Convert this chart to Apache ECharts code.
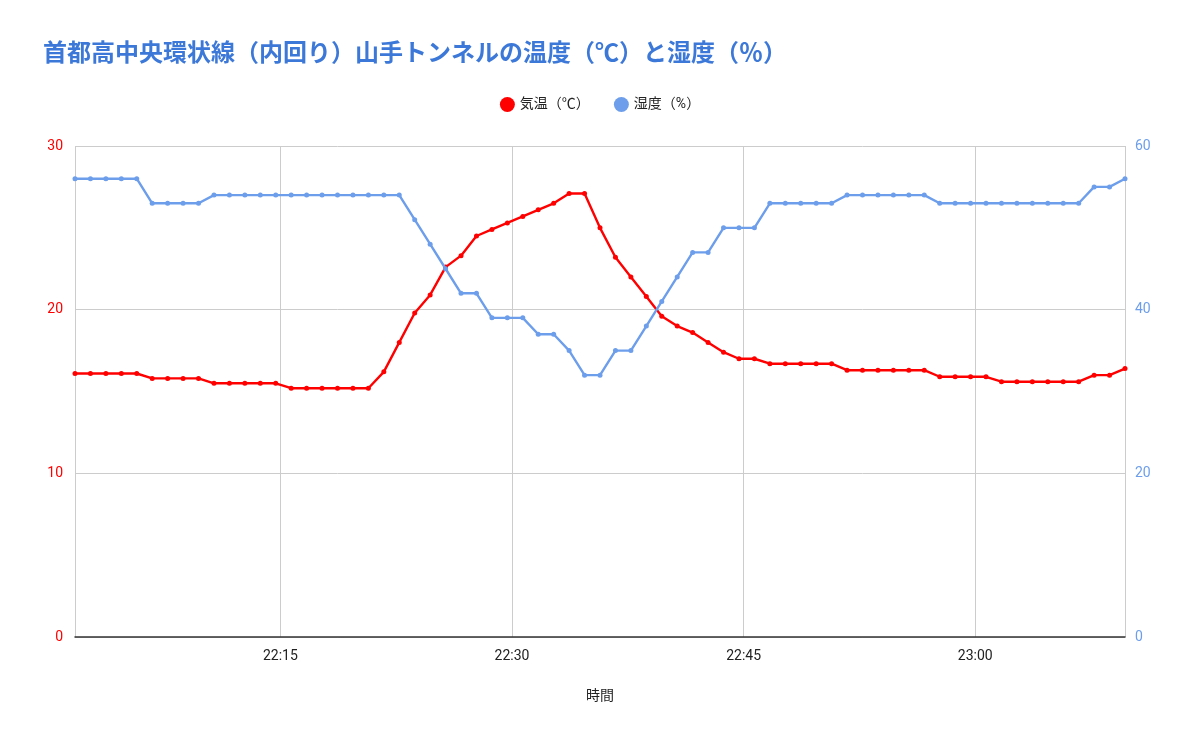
<!DOCTYPE html>
<html>
<head>
<meta charset="utf-8">
<script src="https://cdn.jsdelivr.net/npm/echarts@6/dist/echarts.min.js"></script>
<style>html,body{margin:0;padding:0;background:#fff;}#c{width:1200px;height:743px;}</style>
</head>
<body>
<div id="c"></div>
<script>
const times = [
 "22:01:42","22:02:42","22:03:42","22:04:42","22:05:42","22:06:42","22:07:42","22:08:42","22:09:42","22:10:42",
 "22:11:42","22:12:42","22:13:42","22:14:42","22:15:42","22:16:42","22:17:42","22:18:42","22:19:42","22:20:42",
 "22:21:42","22:22:42","22:23:42","22:24:42","22:25:42","22:26:42","22:27:42","22:28:42","22:29:42","22:30:42",
 "22:31:42","22:32:42","22:33:42","22:34:42","22:35:42","22:36:42","22:37:42","22:38:42","22:39:42","22:40:42",
 "22:41:42","22:42:42","22:43:42","22:44:42","22:45:42","22:46:42","22:47:42","22:48:42","22:49:42","22:50:42",
 "22:51:42","22:52:42","22:53:42","22:54:42","22:55:42","22:56:42","22:57:42","22:58:42","22:59:42","23:00:42",
 "23:01:42","23:02:42","23:03:42","23:04:42","23:05:42","23:06:42","23:07:42","23:08:42","23:09:42"
];
const temperature = [
 16.1,16.1,16.1,16.1,16.1,15.8,15.8,15.8,15.8,15.5,
 15.5,15.5,15.5,15.5,15.2,15.2,15.2,15.2,15.2,15.2,
 16.2,18.0,19.8,20.9,22.6,23.3,24.5,24.9,25.3,25.7,
 26.1,26.5,27.1,27.1,25.0,23.2,22.0,20.8,19.6,19.0,
 18.6,18.0,17.4,17.0,17.0,16.7,16.7,16.7,16.7,16.7,
 16.3,16.3,16.3,16.3,16.3,16.3,15.9,15.9,15.9,15.9,
 15.6,15.6,15.6,15.6,15.6,15.6,16.0,16.0,16.4
];
const humidity = [
 56,56,56,56,56,53,53,53,53,54,
 54,54,54,54,54,54,54,54,54,54,
 54,54,51,48,45,42,42,39,39,39,
 37,37,35,32,32,35,35,38,41,44,
 47,47,50,50,50,53,53,53,53,53,
 54,54,54,54,54,54,53,53,53,53,
 53,53,53,53,53,53,55,55,56
];
const titleText = "首都高中央環状線（内回り）山手トンネルの温度（℃）と湿度（％）";
const seriesNames = ["気温（℃）", "湿度（%）"];
const xAxisName = "時間";

function toDate(s){ const p = s.split(":").map(Number); return new Date(2024,0,1,p[0],p[1],p[2]).getTime(); }
const tms = times.map(toDate);
const tData = tms.map((t,i)=>[t, temperature[i]]);
const hData = tms.map((t,i)=>[t, humidity[i]]);

const FONT = 'Roboto, "Noto Sans CJK JP", sans-serif';
const chart = echarts.init(document.getElementById('c'));
chart.setOption({
  animation:false,
  backgroundColor:'#ffffff',
  textStyle:{fontFamily:FONT},
  title:{
    text:titleText, left:38, top:38,
    textStyle:{fontSize:24, fontWeight:'bold', color:'#3c78d8', fontFamily:FONT}
  },
  legend:{
    top:92, left:'center', itemGap:24, itemWidth:15, itemHeight:15,
    icon:'circle',
    textStyle:{fontSize:14, color:'#222', fontFamily:FONT},
    data:seriesNames
  },
  grid:{left:75, right:75, top:146, bottom:106},
  xAxis:{
    type:'time',
    min:tms[0], max:tms[tms.length-1],
    splitNumber:4,
    name:xAxisName, nameLocation:'middle', nameGap:52,
    nameTextStyle:{fontSize:14, color:'#222', fontFamily:FONT},
    axisLine:{show:true, lineStyle:{color:'#333', width:1.5}},
    axisTick:{show:false},
    axisLabel:{formatter:'{HH}:{mm}', fontSize:14, color:'#222', margin:12, fontFamily:FONT, showMinLabel:false, showMaxLabel:false, hideOverlap:false},
    splitLine:{show:true, lineStyle:{color:'#cccccc', width:1}}
  },
  yAxis:[
    {type:'value', min:0, max:30, interval:10, position:'left',
     axisLine:{show:false}, axisTick:{show:false},
     axisLabel:{fontSize:14, color:'#ff0000', margin:12, fontFamily:FONT},
     splitLine:{show:true, lineStyle:{color:'#cccccc', width:1}}},
    {type:'value', min:0, max:60, interval:20, position:'right',
     axisLine:{show:false}, axisTick:{show:false},
     axisLabel:{fontSize:14, color:'#6d9eeb', margin:10, fontFamily:FONT},
     splitLine:{show:false}}
  ],
  series:[
    {name:seriesNames[0], type:'line', yAxisIndex:0, data:tData,
     symbol:'circle', symbolSize:5, showSymbol:true,
     itemStyle:{color:'#ff0000'}, lineStyle:{color:'#ff0000', width:2.4}, z:2},
    {name:seriesNames[1], type:'line', yAxisIndex:1, data:hData,
     symbol:'circle', symbolSize:5, showSymbol:true,
     itemStyle:{color:'#6d9eeb'}, lineStyle:{color:'#6d9eeb', width:2.4}, z:3}
  ]
});
</script>
</body>
</html>
